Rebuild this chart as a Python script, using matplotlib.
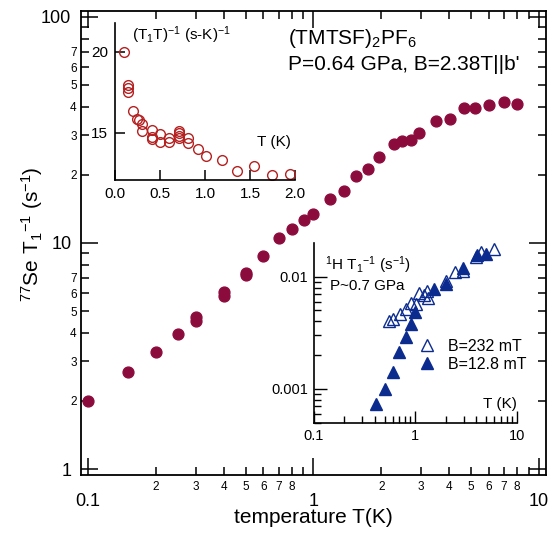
import matplotlib
matplotlib.use('Agg')
import matplotlib.pyplot as plt
import matplotlib.ticker as ticker
import numpy as np

plt.rcParams['font.family'] = ['Liberation Sans', 'DejaVu Sans']
plt.rcParams['mathtext.fontset'] = 'custom'
plt.rcParams['mathtext.rm'] = 'Liberation Sans'
plt.rcParams['mathtext.it'] = 'Liberation Sans:italic'
plt.rcParams['mathtext.default'] = 'rm'

# main panel: 77Se relaxation rate
se_T = [0.1, 0.15, 0.2, 0.25, 0.3, 0.3, 0.4, 0.4, 0.5, 0.5, 0.6, 0.7, 0.8, 0.91, 1.0,
        1.19, 1.36, 1.54, 1.75, 1.95, 2.27, 2.48, 2.7, 2.94, 3.5, 4.03, 4.63, 5.21,
        6.03, 7.0, 7.96]
se_rate = [2.0, 2.68, 3.28, 3.97, 4.52, 4.7, 5.85, 6.05, 7.2, 7.4, 8.76, 10.5, 11.5,
           12.7, 13.5, 15.6, 17.0, 19.7, 21.3, 23.9, 27.4, 28.3, 28.6, 30.8, 34.8,
           35.4, 39.4, 39.6, 40.7, 41.9, 41.2]

# inset 1: (T1 T)^-1 vs T
t1t_T = [0.10, 0.15, 0.15, 0.15, 0.20, 0.245, 0.27, 0.30, 0.30, 0.41, 0.41, 0.41,
         0.50, 0.50, 0.60, 0.60, 0.71, 0.71, 0.71, 0.71, 0.81, 0.81, 0.92, 1.01,
         1.19, 1.36, 1.54, 1.75, 1.95]
t1t_val = [20.0, 17.95, 17.75, 17.5, 16.36, 15.85, 15.75, 15.54, 15.12, 15.17, 14.75,
           14.59, 14.92, 14.44, 14.65, 14.44, 15.12, 14.95, 14.8, 14.7, 14.65, 14.38,
           13.98, 13.58, 13.3, 12.65, 12.97, 12.37, 12.44]

# inset 2: 1H T1^-1
h_open_T = [0.55, 0.60, 0.71, 0.82, 0.91, 1.02, 1.10, 1.21, 1.30, 1.34, 2.02, 2.49,
            2.97, 3.97, 4.45, 5.96]
h_open_rate = [0.0040, 0.0042, 0.0047, 0.0052, 0.0058, 0.0057, 0.0071, 0.0068,
               0.0075, 0.0064, 0.0092, 0.0109, 0.0113, 0.0151, 0.0165, 0.0176]
h_fill_T = [0.41, 0.51, 0.61, 0.70, 0.81, 0.91, 1.0, 1.53, 2.02, 2.97, 4.07, 5.0]
h_fill_rate = [0.00073, 0.00099, 0.00143, 0.00215, 0.0029, 0.0038, 0.0048, 0.0078,
               0.0086, 0.0119, 0.0156, 0.0158]

maroon = '#8c0b3d'
red = '#b52020'
navy = '#0b2b8e'

fig = plt.figure(figsize=(5.52, 5.34), dpi=100)
ax = fig.add_axes([0.1467, 0.1105, 0.8423, 0.8685])
ax.plot(se_T, se_rate, 'o', color=maroon, ms=7.8, mec=maroon)
ax.set_xscale('log')
ax.set_yscale('log')
ax.set_xlim(0.0931, 10.74)
ax.set_ylim(0.941, 106)


def minor_fmt(maxm):
    def f(v, pos):
        m = v / 10 ** np.floor(np.log10(v) + 1e-9)
        m = int(round(m))
        return str(m) if 2 <= m <= maxm else ''
    return f


for axis, maxm in [(ax.xaxis, 8), (ax.yaxis, 7)]:
    axis.set_major_locator(ticker.LogLocator(base=10))
    axis.set_minor_locator(ticker.LogLocator(base=10, subs=np.arange(2, 10)))
    axis.set_major_formatter(ticker.FuncFormatter(lambda v, p: '%g' % v))
    axis.set_minor_formatter(ticker.FuncFormatter(minor_fmt(maxm)))

ax.tick_params(which='both', direction='in', top=True, right=True, width=1.1)
ax.tick_params(which='major', length=12, labelsize=13)
ax.tick_params(which='minor', length=6, labelsize=8.5)
ax.tick_params(axis='x', which='major', pad=13)
ax.tick_params(axis='x', which='minor', pad=4)
ax.tick_params(axis='y', which='major', pad=7)
ax.tick_params(axis='y', which='minor', pad=3)
for s in ax.spines.values():
    s.set_linewidth(1.3)

ax.set_xlabel('temperature T(K)', fontsize=15)
ax.xaxis.set_label_coords(0.5, -0.072)
ax.set_ylabel('$^{77}$Se T$_1$$^{-1}$ (s$^{-1}$)', fontsize=15)
ax.yaxis.set_label_coords(-0.078, 0.52)

ax.text(0.445, 0.965, '(TMTSF)$_2$PF$_6$', transform=ax.transAxes, fontsize=15,
        va='top', ha='left')
ax.text(0.445, 0.905, "P=0.64 GPa, B=2.38T||b'", transform=ax.transAxes, fontsize=15,
        va='top', ha='left')

# inset 1
ax1 = fig.add_axes([0.2083, 0.6624, 0.326, 0.2946])
ax1.patch.set_alpha(0)
ax1.plot(t1t_T, t1t_val, 'o', mfc='none', mec=red, ms=7, mew=1.0)
ax1.set_xlim(0, 2.0)
ax1.set_ylim(12.06, 21.77)
ax1.set_xticks([0.0, 0.5, 1.0, 1.5, 2.0])
ax1.xaxis.set_major_formatter(ticker.FormatStrFormatter('%.1f'))
ax1.set_yticks([15, 20])
ax1.spines['top'].set_visible(False)
ax1.spines['right'].set_visible(False)
for s in ax1.spines.values():
    s.set_linewidth(1.2)
ax1.tick_params(direction='in', length=7, width=1.1, labelsize=11, pad=5)
ax1.text(0.093, 0.99, '(T$_1$T)$^{-1}$ (s-K)$^{-1}$', transform=ax1.transAxes,
         fontsize=11, va='top', ha='left')
ax1.text(0.98, 0.245, 'T (K)', transform=ax1.transAxes, fontsize=11,
         va='center', ha='right')

# inset 2
ax2 = fig.add_axes([0.568, 0.2073, 0.368, 0.337])
ax2.patch.set_alpha(0)
ax2.plot(h_open_T, h_open_rate, '^', mfc='none', mec=navy, ms=8, mew=1.0,
         label='B=232 mT', ls='none')
ax2.plot(h_fill_T, h_fill_rate, '^', color=navy, ms=8, label='B=12.8 mT', ls='none')
ax2.set_xscale('log')
ax2.set_yscale('log')
ax2.set_xlim(0.1, 10)
ax2.set_ylim(0.000495, 0.0198)
ax2.xaxis.set_major_formatter(ticker.FuncFormatter(lambda v, p: '%g' % v))
ax2.yaxis.set_major_formatter(ticker.FuncFormatter(lambda v, p: '%g' % v))
ax2.xaxis.set_minor_formatter(ticker.NullFormatter())
ax2.yaxis.set_minor_formatter(ticker.NullFormatter())
ax2.spines['top'].set_visible(False)
ax2.spines['right'].set_visible(False)
for s in ax2.spines.values():
    s.set_linewidth(1.2)
ax2.tick_params(which='both', direction='in', width=1.0, labelsize=10.5, pad=4)
ax2.tick_params(which='major', length=9)
ax2.tick_params(which='minor', length=5)
ax2.text(0.057, 0.94, '$^1$H T$_1$$^{-1}$ (s$^{-1}$)', transform=ax2.transAxes,
         fontsize=11, va='top', ha='left')
ax2.text(0.081, 0.80, 'P~0.7 GPa', transform=ax2.transAxes, fontsize=11,
         va='top', ha='left')
ax2.text(1.0, 0.11, 'T (K)', transform=ax2.transAxes, fontsize=11,
         va='center', ha='right')
ax2.legend(loc='upper left', bbox_to_anchor=(0.52, 0.47), frameon=False,
           fontsize=11.5, handlelength=1.0, handletextpad=0.8, borderpad=0,
           borderaxespad=0, labelspacing=0.2)

fig.savefig('out.png', dpi=100)
